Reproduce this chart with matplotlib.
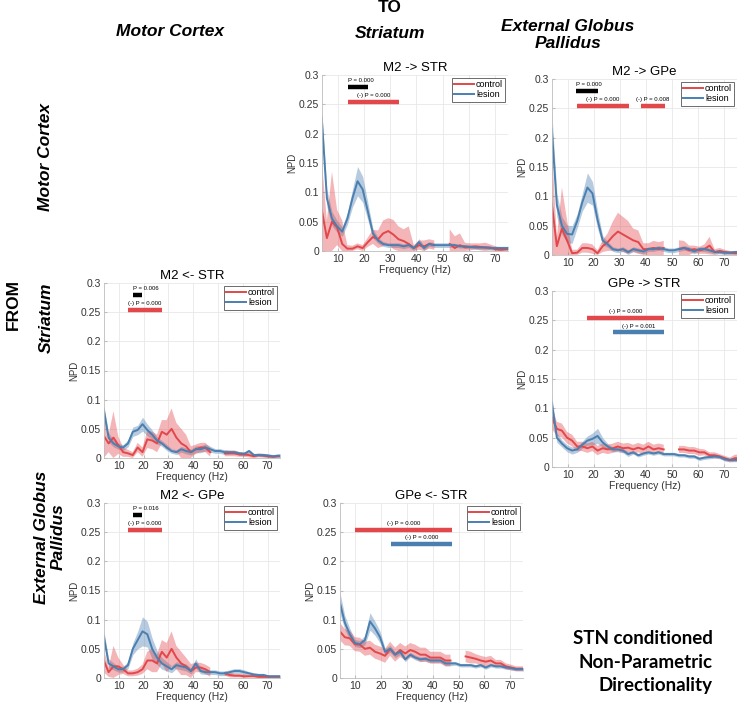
import numpy as np
import matplotlib
matplotlib.use('Agg')
import matplotlib.pyplot as plt

plt.rcParams['font.family'] = ['Liberation Sans', 'DejaVu Sans']

# frequency bins (Hz), ~1.95 Hz resolution
freq = [3.91, 5.86, 7.81, 9.77, 11.72, 13.67, 15.63, 17.58, 19.53, 21.48,
        23.44, 25.39, 27.34, 29.30, 31.25, 33.20, 35.16, 37.11, 39.06, 41.02,
        42.97, 44.92, 46.88, 48.83, 50.78, 52.73, 54.69, 56.64, 58.59, 60.55,
        62.50, 64.45, 66.41, 68.36, 70.31, 72.27, 74.22, 76.17]
nan = np.nan

# ---- M2 -> STR
m2_str_ctl = [0.07, 0.022, 0.05, 0.04, 0.012, 0.004, 0.004, 0.008, 0.005, 0.015,
              0.024, 0.02, 0.03, 0.034, 0.028, 0.02, 0.017, 0.012, 0.005, 0.01,
              0.008, 0.012, 0.01, nan, nan, 0.012, 0.005, 0.01, 0.006, 0.007,
              0.008, 0.007, 0.006, 0.006, 0.003, 0.002, 0.003, 0.003]
m2_str_ctl_sd = [0.085, 0.03, 0.085, 0.03, 0.04, 0.006, 0.005, 0.005, 0.005, 0.008,
                 0.012, 0.015, 0.022, 0.022, 0.025, 0.022, 0.02, 0.03, 0.005, 0.008,
                 0.01, 0.008, 0.008, nan, nan, 0.025, 0.02, 0.02, 0.008, 0.006,
                 0.005, 0.006, 0.008, 0.005, 0.005, 0.003, 0.003, 0.003]
m2_str_les = [0.227, 0.09, 0.055, 0.042, 0.033, 0.055, 0.09, 0.119, 0.105, 0.068,
              0.03, 0.018, 0.012, 0.01, 0.01, 0.01, 0.008, 0.01, 0.005, 0.015,
              0.005, 0.012, 0.01, 0.01, 0.01, 0.01, 0.01, 0.008, 0.008, 0.007,
              0.006, 0.006, 0.006, 0.005, 0.005, 0.005, 0.005, 0.005]
m2_str_les_sd = [0.012, 0.015, 0.012, 0.01, 0.008, 0.01, 0.015, 0.025, 0.022, 0.015,
                 0.008, 0.005, 0.004, 0.004, 0.004, 0.004, 0.004, 0.004, 0.004, 0.006,
                 0.004, 0.004, 0.004, 0.004, 0.004, 0.004, 0.003, 0.003, 0.003, 0.003,
                 0.003, 0.003, 0.003, 0.003, 0.003, 0.003, 0.003, 0.003]

# ---- M2 -> GPe
m2_gpe_ctl = [0.088, 0.015, 0.045, 0.025, 0.003, 0.004, 0.012, 0.012, 0.01, 0.003,
              0.015, 0.022, 0.032, 0.04, 0.035, 0.03, 0.025, 0.022, 0.01, 0.01,
              0.012, 0.01, 0.012, nan, nan, 0.01, 0.012, 0.008, 0.01, 0.008,
              0.01, 0.016, 0.005, 0.007, 0.005, 0.004, 0.003, 0.003]
m2_gpe_ctl_sd = [0.1, 0.015, 0.07, 0.035, 0.006, 0.005, 0.008, 0.008, 0.008, 0.005,
                 0.01, 0.015, 0.025, 0.032, 0.03, 0.028, 0.02, 0.02, 0.01, 0.01,
                 0.012, 0.012, 0.012, nan, nan, 0.015, 0.012, 0.008, 0.006, 0.006,
                 0.008, 0.015, 0.005, 0.005, 0.004, 0.003, 0.003, 0.003]
m2_gpe_les = [0.215, 0.085, 0.05, 0.036, 0.035, 0.058, 0.09, 0.115, 0.105, 0.06,
              0.025, 0.018, 0.01, 0.008, 0.01, 0.005, 0.01, 0.008, 0.006, 0.01,
              0.01, 0.012, 0.01, 0.008, 0.008, 0.01, 0.012, 0.01, 0.006, 0.01,
              0.01, 0.008, 0.005, 0.005, 0.004, 0.004, 0.005, 0.005]
m2_gpe_les_sd = [0.03, 0.02, 0.015, 0.015, 0.015, 0.012, 0.015, 0.025, 0.02, 0.015,
                 0.008, 0.005, 0.004, 0.004, 0.004, 0.004, 0.004, 0.004, 0.004, 0.004,
                 0.004, 0.004, 0.004, 0.004, 0.004, 0.004, 0.004, 0.004, 0.004, 0.004,
                 0.004, 0.004, 0.003, 0.003, 0.003, 0.003, 0.003, 0.003]

# ---- M2 <- STR
str_m2_ctl = [0.038, 0.025, 0.035, 0.022, 0.01, 0.008, 0.005, 0.018, 0.01, 0.032,
              0.03, 0.025, 0.045, 0.04, 0.05, 0.035, 0.025, 0.02, 0.01, 0.015,
              0.018, 0.018, 0.01, nan, nan, 0.008, 0.008, 0.008, 0.006, 0.006,
              0.005, 0.003, 0.005, 0.004, 0.003, 0.002, 0.003, 0.003]
str_m2_ctl_sd = [0.04, 0.015, 0.045, 0.015, 0.008, 0.006, 0.005, 0.008, 0.008, 0.015,
                 0.015, 0.015, 0.02, 0.025, 0.035, 0.025, 0.025, 0.02, 0.01, 0.008,
                 0.008, 0.008, 0.008, nan, nan, 0.005, 0.005, 0.005, 0.004, 0.004,
                 0.004, 0.003, 0.003, 0.003, 0.003, 0.002, 0.002, 0.002]
str_m2_les = [0.083, 0.035, 0.025, 0.02, 0.018, 0.025, 0.045, 0.048, 0.058, 0.048,
              0.04, 0.03, 0.025, 0.018, 0.012, 0.01, 0.015, 0.012, 0.01, 0.015,
              0.015, 0.018, 0.015, 0.012, 0.012, 0.01, 0.01, 0.01, 0.008, 0.007,
              0.012, 0.005, 0.005, 0.005, 0.004, 0.003, 0.004, 0.004]
str_m2_les_sd = [0.008, 0.008, 0.006, 0.005, 0.005, 0.006, 0.008, 0.008, 0.012, 0.01,
                 0.008, 0.006, 0.005, 0.005, 0.004, 0.004, 0.005, 0.005, 0.005, 0.006,
                 0.006, 0.006, 0.005, 0.004, 0.004, 0.004, 0.003, 0.003, 0.003, 0.003,
                 0.003, 0.003, 0.003, 0.003, 0.003, 0.003, 0.003, 0.003]

# ---- GPe -> STR
gpe_str_ctl = [0.085, 0.065, 0.062, 0.05, 0.045, 0.035, 0.035, 0.032, 0.035, 0.028,
               0.032, 0.03, 0.032, 0.035, 0.032, 0.033, 0.03, 0.033, 0.03, 0.035,
               0.03, 0.032, 0.03, nan, nan, 0.03, 0.03, 0.028, 0.028, 0.025,
               0.025, 0.02, 0.02, 0.018, 0.015, 0.012, 0.015, 0.015]
gpe_str_ctl_sd = [0.02, 0.012, 0.012, 0.01, 0.01, 0.008, 0.008, 0.008, 0.008, 0.008,
                  0.008, 0.008, 0.008, 0.008, 0.008, 0.008, 0.008, 0.008, 0.008, 0.008,
                  0.008, 0.008, 0.008, nan, nan, 0.006, 0.006, 0.006, 0.006, 0.006,
                  0.005, 0.005, 0.005, 0.004, 0.004, 0.004, 0.006, 0.006]
gpe_str_les = [0.11, 0.05, 0.04, 0.032, 0.028, 0.03, 0.038, 0.045, 0.048, 0.053,
               0.042, 0.035, 0.03, 0.03, 0.028, 0.022, 0.025, 0.02, 0.023, 0.025,
               0.023, 0.025, 0.022, 0.022, 0.022, 0.02, 0.02, 0.018, 0.018, 0.014,
               0.016, 0.017, 0.018, 0.017, 0.013, 0.012, 0.012, 0.012]
gpe_str_les_sd = [0.012, 0.008, 0.006, 0.006, 0.006, 0.005, 0.006, 0.008, 0.01, 0.013,
                  0.008, 0.005, 0.004, 0.004, 0.004, 0.004, 0.003, 0.003, 0.003, 0.003,
                  0.003, 0.003, 0.003, 0.003, 0.003, 0.003, 0.003, 0.003, 0.003, 0.003,
                  0.003, 0.003, 0.003, 0.003, 0.003, 0.003, 0.003, 0.003]

# ---- M2 <- GPe
gpe_m2_ctl = [0.03, 0.01, 0.02, 0.02, 0.015, 0.008, 0.008, 0.01, 0.015, 0.03,
              0.03, 0.025, 0.045, 0.035, 0.05, 0.035, 0.025, 0.02, 0.012, 0.018,
              0.018, 0.015, 0.01, nan, nan, 0.008, 0.005, 0.004, 0.004, 0.003,
              0.003, 0.003, 0.002, 0.002, 0.002, 0.002, 0.002, 0.002]
gpe_m2_ctl_sd = [0.02, 0.008, 0.035, 0.015, 0.008, 0.005, 0.005, 0.006, 0.008, 0.015,
                 0.02, 0.015, 0.02, 0.025, 0.03, 0.02, 0.02, 0.015, 0.012, 0.008,
                 0.008, 0.008, 0.008, nan, nan, 0.004, 0.004, 0.003, 0.003, 0.003,
                 0.002, 0.002, 0.002, 0.002, 0.002, 0.002, 0.002, 0.002]
gpe_m2_les = [0.072, 0.025, 0.02, 0.015, 0.015, 0.022, 0.05, 0.065, 0.08, 0.075,
              0.05, 0.035, 0.025, 0.02, 0.015, 0.022, 0.02, 0.018, 0.012, 0.025,
              0.012, 0.01, 0.01, 0.01, 0.008, 0.008, 0.01, 0.012, 0.012, 0.01,
              0.008, 0.006, 0.005, 0.005, 0.003, 0.003, 0.003, 0.003]
gpe_m2_les_sd = [0.01, 0.008, 0.006, 0.005, 0.005, 0.006, 0.01, 0.015, 0.025, 0.022,
                 0.018, 0.012, 0.01, 0.008, 0.006, 0.006, 0.006, 0.006, 0.005, 0.008,
                 0.005, 0.004, 0.004, 0.004, 0.004, 0.004, 0.004, 0.004, 0.004, 0.004,
                 0.003, 0.003, 0.003, 0.003, 0.002, 0.002, 0.002, 0.002]

# ---- GPe <- STR
str_gpe_ctl = [0.08, 0.07, 0.068, 0.058, 0.057, 0.05, 0.052, 0.045, 0.042, 0.038,
               0.05, 0.04, 0.048, 0.042, 0.048, 0.045, 0.04, 0.04, 0.035, 0.035,
               0.035, 0.03, 0.03, nan, nan, 0.037, 0.035, 0.033, 0.03, 0.028,
               0.03, 0.025, 0.025, 0.02, 0.018, 0.016, 0.016, 0.016]
str_gpe_ctl_sd = [0.015, 0.014, 0.013, 0.012, 0.012, 0.012, 0.012, 0.012, 0.012, 0.012,
                  0.012, 0.012, 0.012, 0.012, 0.012, 0.012, 0.012, 0.012, 0.01, 0.01,
                  0.01, 0.01, 0.01, nan, nan, 0.01, 0.01, 0.008, 0.008, 0.008,
                  0.008, 0.006, 0.006, 0.005, 0.005, 0.004, 0.004, 0.004]
str_gpe_les = [0.13, 0.095, 0.075, 0.06, 0.058, 0.065, 0.097, 0.085, 0.07, 0.045,
               0.05, 0.04, 0.045, 0.032, 0.04, 0.035, 0.032, 0.033, 0.03, 0.03,
               0.03, 0.025, 0.025, 0.025, 0.022, 0.022, 0.022, 0.02, 0.022, 0.018,
               0.022, 0.02, 0.02, 0.018, 0.017, 0.015, 0.015, 0.015]
str_gpe_les_sd = [0.018, 0.012, 0.01, 0.006, 0.006, 0.008, 0.015, 0.012, 0.01, 0.006,
                  0.006, 0.005, 0.005, 0.004, 0.004, 0.004, 0.004, 0.004, 0.004, 0.004,
                  0.004, 0.004, 0.004, 0.003, 0.003, 0.003, 0.003, 0.003, 0.003, 0.003,
                  0.003, 0.003, 0.003, 0.003, 0.003, 0.003, 0.003, 0.003]

# significance bars: (start Hz, end Hz, level, which, label)
m2_str_sig = [(13.9, 21.6, 0.28, 'k', 'P = 0.000'), (13.9, 33.5, 0.254, 'c', '(-) P = 0.000')]
m2_gpe_sig = [(13.3, 21.6, 0.28, 'k', 'P = 0.000'), (13.6, 33.6, 0.254, 'c', '(-) P = 0.000'),
              (38.0, 47.5, 0.254, 'c', '(-) P = 0.008')]
str_m2_sig = [(15.8, 19.5, 0.28, 'k', 'P = 0.006'), (13.6, 27.5, 0.254, 'c', '(-) P = 0.000')]
gpe_str_sig = [(17.6, 47.0, 0.254, 'c', '(-) P = 0.000'), (27.5, 47.0, 0.23, 'l', '(-) P = 0.001')]
gpe_m2_sig = [(15.8, 19.5, 0.28, 'k', 'P = 0.016'), (13.6, 27.5, 0.254, 'c', '(-) P = 0.000')]
str_gpe_sig = [(9.8, 47.5, 0.254, 'c', '(-) P = 0.000'), (23.6, 47.5, 0.23, 'l', '(-) P = 0.000')]

RED = '#e2474b'
BLUE = '#4a7fb0'
FW, FH = 737, 702


def add_panel(fig, box, title, ctl, ctl_sd, les, les_sd, sig, xlabel=True):
    """box is (left, top, right, bottom) in pixels."""
    l, t, r, b = box
    ax = fig.add_axes([l / FW, 1 - b / FH, (r - l) / FW, (b - t) / FH])
    f = np.array(freq)
    for m, s, c in [(les, les_sd, BLUE), (ctl, ctl_sd, RED)]:
        m = np.array(m)
        s = np.array(s)
        ax.fill_between(f, np.clip(m - s, 0, None), m + s, color=c, alpha=0.4,
                        linewidth=0)
    ax.plot(f, ctl, color=RED, lw=1.4, label='control')
    ax.plot(f, les, color=BLUE, lw=1.4, label='lesion')
    cols = {'k': 'black', 'c': RED, 'l': BLUE}
    for x0, x1, y, w, lab in sig:
        ax.plot([x0, x1], [y, y], color=cols[w], lw=3.2, solid_capstyle='butt')
        ax.text((x0 + x1) / 2 if w != 'k' else x0, y + 0.006, lab, fontsize=4.3,
                ha='center' if w != 'k' else 'left', va='bottom')
    ax.set_xlim(4, 75)
    ax.set_ylim(0, 0.3)
    ax.set_xticks([10, 20, 30, 40, 50, 60, 70])
    ax.set_yticks([0, 0.05, 0.1, 0.15, 0.2, 0.25, 0.3])
    ax.set_yticklabels(['0', '0.05', '0.1', '0.15', '0.2', '0.25', '0.3'])
    ax.grid(True, color='#e8e8e8', lw=0.6)
    ax.set_axisbelow(True)
    for sp in ['top', 'right']:
        ax.spines[sp].set_visible(False)
    for sp in ['left', 'bottom']:
        ax.spines[sp].set_color('#bdbdbd')
        ax.spines[sp].set_linewidth(0.6)
    ax.tick_params(labelsize=7.5, colors='#333333', direction='in', length=2,
                   pad=2)
    ax.tick_params(color='#bdbdbd')
    ax.set_title(title, fontsize=9.5, pad=3)
    ax.set_ylabel('NPD', fontsize=7, labelpad=1, color='#333333')
    if xlabel:
        ax.set_xlabel('Frequency (Hz)', fontsize=7.5, labelpad=1, color='#333333')
    leg = ax.legend(loc='upper right', fontsize=6.5, handlelength=2.2,
                    borderpad=0.25, labelspacing=0.15, handletextpad=0.2,
                    borderaxespad=0.3, fancybox=False, framealpha=1)
    leg.get_frame().set_edgecolor('#555555')
    leg.get_frame().set_linewidth(0.6)
    return ax


fig = plt.figure(figsize=(FW / 100, FH / 100), dpi=100)

add_panel(fig, (322, 75, 508, 251), 'M2 -> STR', m2_str_ctl, m2_str_ctl_sd,
          m2_str_les, m2_str_les_sd, m2_str_sig)
add_panel(fig, (552, 79, 737, 255), 'M2 -> GPe', m2_gpe_ctl, m2_gpe_ctl_sd,
          m2_gpe_les, m2_gpe_les_sd, m2_gpe_sig, xlabel=False)
add_panel(fig, (104, 283, 280, 458), 'M2 <- STR', str_m2_ctl, str_m2_ctl_sd,
          str_m2_les, str_m2_les_sd, str_m2_sig)
add_panel(fig, (552, 291, 737, 467), 'GPe -> STR', gpe_str_ctl, gpe_str_ctl_sd,
          gpe_str_les, gpe_str_les_sd, gpe_str_sig)
add_panel(fig, (104, 503, 280, 678), 'M2 <- GPe', gpe_m2_ctl, gpe_m2_ctl_sd,
          gpe_m2_les, gpe_m2_les_sd, gpe_m2_sig)
add_panel(fig, (340, 503, 523, 678), 'GPe <- STR', str_gpe_ctl, str_gpe_ctl_sd,
          str_gpe_les, str_gpe_les_sd, str_gpe_sig)

# headings
hd = dict(fontsize=12.5, fontweight='bold', ha='center', va='center')
fig.text(390 / FW, 1 - 8 / FH, 'TO', **hd)
fig.text(170 / FW, 1 - 31 / FH, 'Motor Cortex', style='italic', **hd)
fig.text(390 / FW, 1 - 33 / FH, 'Striatum', style='italic', **hd)
fig.text(568 / FW, 1 - 35 / FH, 'External Globus\nPallidus', style='italic',
         linespacing=1.15, **hd)
fig.text(13 / FW, 1 - 305 / FH, 'FROM', rotation=90, **hd)
fig.text(46 / FW, 1 - 157 / FH, 'Motor Cortex', style='italic', rotation=90, **hd)
fig.text(46 / FW, 1 - 318 / FH, 'Striatum', style='italic', rotation=90, **hd)
fig.text(50 / FW, 1 - 537 / FH, 'External Globus\nPallidus', style='italic',
         rotation=90, linespacing=1.15, **hd)
fig.text(713 / FW, 1 - 662 / FH, 'STN conditioned\nNon-Parametric\nDirectionality',
         fontsize=13.5, fontweight='bold', ha='right', va='center', linespacing=1.5,
         family=['Lato', 'DejaVu Sans'])

fig.savefig('out.png', dpi=100)
